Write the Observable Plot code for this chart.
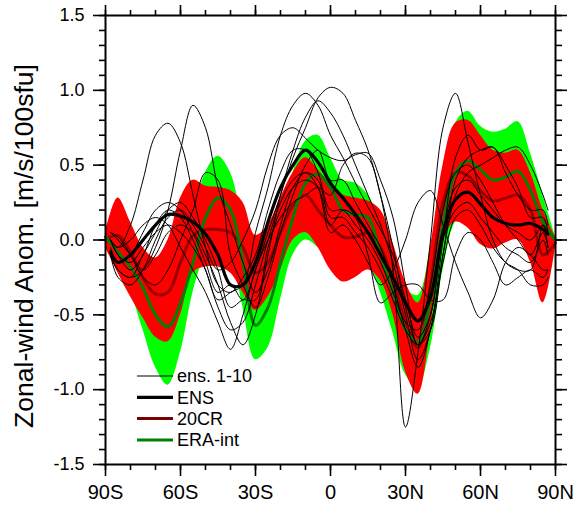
<!DOCTYPE html>
<html><head><meta charset="utf-8">
<script src="https://cdn.jsdelivr.net/npm/d3@7"></script>
<script src="https://cdn.jsdelivr.net/npm/@observablehq/plot@0.6"></script>
<style>
body{margin:0;background:#fff;}
#chart{position:relative;width:574px;height:507px;}
#chart svg{font-family:"Liberation Sans",Arial,Helvetica,sans-serif;}
</style>
</head><body><div id="chart"></div>
<script>
// latitude grids
const latBand = [-90,-85,-80,-75,-70,-65,-60,-55,-50,-45,-40,-35,-30,-25,-20,-15,-10,-5,0,5,10,15,20,25,30,35,40,45,50,55,60,65,70,75,80,85,90];
const latLine = [-88,-85,-80,-75,-70,-65,-60,-55,-50,-45,-40,-35,-30,-25,-20,-15,-10,-5,0,5,10,15,20,25,30,35,40,45,50,55,60,65,70,75,80,85,87];

// 20CR spread band (red)
const cr20Low  = [-0.05,-0.22,-0.38,-0.52,-0.65,-0.68,-0.5,-0.22,-0.18,-0.18,-0.22,-0.35,-0.47,-0.38,-0.2,0.0,0.05,-0.05,-0.2,-0.28,-0.25,-0.2,-0.27,-0.5,-0.88,-1.03,-0.6,0.0,0.12,0.08,-0.03,-0.06,-0.02,0.0,-0.15,-0.42,-0.05];
const cr20High = [0.05,0.28,0.12,-0.05,-0.12,0.0,0.28,0.4,0.36,0.35,0.33,0.25,0.03,0.1,0.28,0.45,0.55,0.47,0.37,0.3,0.28,0.26,0.2,-0.02,-0.28,-0.42,-0.05,0.5,0.78,0.8,0.7,0.6,0.58,0.6,0.45,0.2,0.02];
// ERA-int spread band (green)
const eraLow  = [-0.05,-0.2,-0.35,-0.6,-0.85,-0.97,-0.75,-0.35,-0.1,0.0,-0.1,-0.45,-0.8,-0.72,-0.4,-0.1,0.0,-0.05,-0.15,-0.15,-0.1,-0.15,-0.35,-0.62,-0.9,-0.98,-0.72,-0.2,0.12,0.2,0.15,0.08,0.1,0.14,0.05,-0.08,-0.03];
const eraHigh = [0.08,0.15,0.05,-0.1,-0.25,-0.25,-0.1,0.15,0.45,0.56,0.45,0.1,-0.3,-0.2,0.15,0.45,0.66,0.7,0.55,0.4,0.38,0.3,0.12,-0.1,-0.32,-0.37,-0.05,0.45,0.78,0.86,0.76,0.72,0.74,0.79,0.58,0.3,0.02];
// reanalysis curves
const cr20 = [0.0,0.03,-0.08,-0.25,-0.36,-0.35,-0.15,0.03,0.07,0.07,0.05,-0.05,-0.22,-0.15,0.05,0.23,0.3,0.2,0.1,0.02,0.02,0.05,-0.05,-0.27,-0.55,-0.72,-0.3,0.25,0.45,0.43,0.33,0.26,0.28,0.3,0.2,-0.1,-0.02];
const eraInt = [0.02,-0.08,-0.18,-0.32,-0.5,-0.58,-0.42,-0.15,0.15,0.28,0.2,-0.15,-0.57,-0.45,-0.15,0.15,0.38,0.44,0.35,0.2,0.17,0.15,-0.1,-0.35,-0.6,-0.68,-0.4,0.1,0.45,0.53,0.47,0.4,0.42,0.46,0.33,0.12,0.0];
// ensemble mean
const ensMean = [-0.08,-0.15,-0.1,0.0,0.1,0.17,0.16,0.12,0.04,-0.1,-0.3,-0.3,-0.15,0.12,0.35,0.5,0.6,0.52,0.38,0.28,0.17,0.05,-0.1,-0.25,-0.42,-0.54,-0.38,0.05,0.27,0.32,0.24,0.15,0.11,0.1,0.11,0.07,0.04];
// ensemble members 1-10
const ens01 = [0.0,-0.05,0.1,0.4,0.7,0.78,0.65,0.3,-0.05,-0.3,-0.35,-0.25,-0.1,0.2,0.45,0.6,0.6,0.45,0.2,0.2,0.1,0.0,-0.15,-0.35,-0.55,-0.6,-0.3,0.2,0.45,0.5,0.4,0.25,0.1,0.0,-0.1,0.05,-0.05];
const ens02 = [-0.1,-0.2,-0.25,-0.2,-0.05,0.2,0.6,0.9,0.75,0.35,0.1,-0.15,-0.35,-0.2,0.1,0.35,0.45,0.4,0.15,0.15,0.05,-0.05,-0.2,-0.4,-0.6,-0.7,-0.5,0.0,0.2,0.25,0.15,0.05,-0.05,-0.1,-0.15,0.0,-0.1];
const ens03 = [0.0,-0.1,-0.2,-0.1,0.1,0.2,0.15,0.0,-0.2,-0.4,-0.35,-0.3,0.05,0.35,0.7,0.9,0.98,0.9,0.7,0.55,0.38,0.22,0.07,-0.1,-0.4,-0.65,-0.5,0.05,0.35,0.4,0.3,0.2,0.1,0.05,0.0,0.1,0.05];
const ens04 = [-0.05,-0.15,-0.1,0.05,0.2,0.25,0.2,0.05,-0.15,-0.35,-0.3,-0.4,-0.2,0.05,0.3,0.55,0.75,0.95,1.02,0.98,0.8,0.6,0.3,-0.2,-1.25,-0.75,0.0,0.75,0.98,0.65,0.3,0.0,-0.15,-0.2,-0.2,0.1,-0.05];
const ens05 = [0.05,0.0,-0.1,-0.2,-0.1,0.05,0.1,0.05,-0.1,-0.3,-0.55,-0.7,-0.5,-0.1,0.3,0.6,0.82,0.93,0.85,0.7,0.5,0.3,0.1,-0.15,-0.5,-0.8,-0.6,-0.1,0.3,0.45,0.5,0.55,0.6,0.62,0.5,0.3,0.2];
const ens06 = [-0.1,-0.25,-0.3,-0.2,0.0,0.15,0.2,0.1,-0.05,-0.2,-0.15,0.0,0.2,0.5,0.7,0.75,0.68,0.6,0.55,0.53,0.57,0.58,0.4,0.15,-0.3,-0.7,-0.6,-0.1,0.4,0.55,0.6,0.62,0.5,0.35,0.15,0.15,0.05];
const ens07 = [0.0,-0.1,-0.15,-0.05,0.05,0.1,0.05,-0.05,-0.2,-0.45,-0.6,-0.55,-0.3,0.0,0.25,0.4,0.45,0.35,0.05,0.1,0.0,-0.15,-0.3,-0.2,0.0,0.25,0.33,0.1,-0.15,-0.35,-0.52,-0.4,-0.15,-0.05,-0.1,-0.2,-0.2];
const ens08 = [0.05,0.02,-0.1,-0.25,-0.3,-0.2,0.0,0.2,0.45,0.4,-0.1,-0.3,-0.45,-0.25,0.05,0.3,0.5,0.6,0.4,0.4,0.25,0.1,-0.05,-0.3,-0.6,-0.85,-0.6,0.0,0.55,0.7,0.6,0.62,0.45,0.3,0.2,0.2,0.1];
const ens09 = [-0.1,-0.2,-0.25,-0.1,0.05,0.2,0.25,0.15,0.0,-0.2,-0.45,-0.4,-0.4,-0.05,0.2,0.35,0.4,0.35,0.1,0.2,0.15,-0.1,-0.42,-0.35,-0.3,-0.3,-0.4,-0.4,-0.1,0.05,0.0,-0.15,-0.3,-0.25,-0.2,-0.25,-0.2];
const ens10 = [0.0,-0.05,0.0,0.1,0.15,0.1,-0.05,-0.2,-0.35,-0.55,-0.73,-0.5,-0.2,0.0,0.15,0.25,0.3,0.35,0.3,0.5,0.58,0.55,0.3,-0.05,-0.45,-0.7,-0.55,-0.15,0.15,0.2,0.1,-0.05,-0.15,-0.2,-0.3,-0.3,-0.25];

// axis ticks and labels
const xMajor = [-90,-60,-30,0,30,60,90];
const xMajorLabels = ["90S","60S","30S","0","30N","60N","90N"];
const xMinor = d3.range(-90, 91, 10);
const yMajor = [-1.5,-1.0,-0.5,0,0.5,1.0,1.5];
const yMajorLabels = ["-1.5","-1.0","-0.5","0.0","0.5","1.0","1.5"];
const yMinor = d3.range(-15, 16, 1).map(d => d / 10);
const yTitle = "Zonal-wind Anom. [m/s/100sfu]";
const legendNames = ["ens. 1-10","ENS","20CR","ERA-int"];

// tidy tables
const bandTable = latBand.map((lat, i) => ({lat, rLo: cr20Low[i], rHi: cr20High[i], gLo: eraLow[i], gHi: eraHigh[i], cr: cr20[i], era: eraInt[i]}));
const members = [ens01,ens02,ens03,ens04,ens05,ens06,ens07,ens08,ens09,ens10];
const memberTable = members.flatMap((arr, m) => arr.map((v, i) => ({member: m + 1, lat: latLine[i], v})));
const ensTable = latLine.map((lat, i) => ({lat, v: ensMean[i]}));

const curve = "catmull-rom";
const axisCommon = {strokeWidth: 1.6, stroke: "black", fill: "black", label: null};

const plot = Plot.plot({
  width: 574, height: 507,
  marginLeft: 105, marginRight: 19, marginTop: 15, marginBottom: 43,
  x: {domain: [-90, 90]},
  y: {domain: [-1.5, 1.5]},
  style: {fontFamily: '"Liberation Sans", Arial, Helvetica, sans-serif', background: "white", overflow: "visible"},
  marks: [
    Plot.areaY(bandTable, {x: "lat", y1: "gLo", y2: "gHi", fill: "#00ff00", curve}),
    Plot.areaY(bandTable, {x: "lat", y1: "rLo", y2: "rHi", fill: "#ff0000", curve}),
    Plot.lineY(bandTable, {x: "lat", y: "cr", stroke: "#7a0000", strokeOpacity: 0.75, strokeWidth: 3, curve}),
    Plot.lineY(bandTable, {x: "lat", y: "era", stroke: "#008000", strokeWidth: 3, curve}),
    Plot.lineY(memberTable, {x: "lat", y: "v", z: "member", stroke: "black", strokeWidth: 1, curve}),
    Plot.lineY(ensTable, {x: "lat", y: "v", stroke: "black", strokeWidth: 3.2, curve}),
    Plot.axisX({...axisCommon, anchor: "bottom", ticks: xMajor, tickSize: 12, tickPadding: 8, fontSize: 20, tickFormat: d => xMajorLabels[xMajor.indexOf(d)]}),
    Plot.axisX({...axisCommon, anchor: "bottom", ticks: xMinor, tickSize: 6, tickFormat: () => ""}),
    Plot.axisX({...axisCommon, anchor: "top", ticks: xMajor, tickSize: 11, tickFormat: () => ""}),
    Plot.axisX({...axisCommon, anchor: "top", ticks: xMinor, tickSize: 6, tickFormat: () => ""}),
    Plot.axisY({...axisCommon, anchor: "left", ticks: yMajor, tickSize: 12, tickPadding: 9, fontSize: 18, tickFormat: d => yMajorLabels[yMajor.findIndex(t => Math.abs(t - d) < 1e-9)]}),
    Plot.axisY({...axisCommon, anchor: "left", ticks: yMinor, tickSize: 6, tickFormat: () => ""}),
    Plot.axisY({...axisCommon, anchor: "right", ticks: yMajor, tickSize: 11, tickFormat: () => ""}),
    Plot.axisY({...axisCommon, anchor: "right", ticks: yMinor, tickSize: 6, tickFormat: () => ""}),
    Plot.frame({stroke: "black", strokeWidth: 2})
  ]
});
document.getElementById("chart").appendChild(plot);

const svg = d3.select(plot);
// y-axis title (rotated)
svg.append("text")
  .attr("transform", "translate(33,246) rotate(-90)")
  .attr("text-anchor", "middle")
  .attr("font-size", 26.5)
  .attr("fill", "black")
  .text(yTitle);

// legend inside the plot area (lower left)
const legendStyles = [
  {stroke: "black", width: 1},
  {stroke: "black", width: 3.2},
  {stroke: "#7a0000", width: 3},
  {stroke: "#008000", width: 3}
];
const lg = svg.append("g").attr("transform", "translate(137,376)");
legendNames.forEach((name, i) => {
  const row = lg.append("g").attr("transform", `translate(0,${i * 21.3})`);
  row.append("line").attr("x1", 0).attr("x2", 36).attr("y1", 0).attr("y2", 0)
    .attr("stroke", legendStyles[i].stroke).attr("stroke-width", legendStyles[i].width);
  row.append("text").attr("x", 40).attr("y", 0).attr("dy", "0.35em")
    .attr("text-anchor", "start")
    .attr("font-size", 18).attr("fill", "black").text(name);
});
</script>
</body></html>
